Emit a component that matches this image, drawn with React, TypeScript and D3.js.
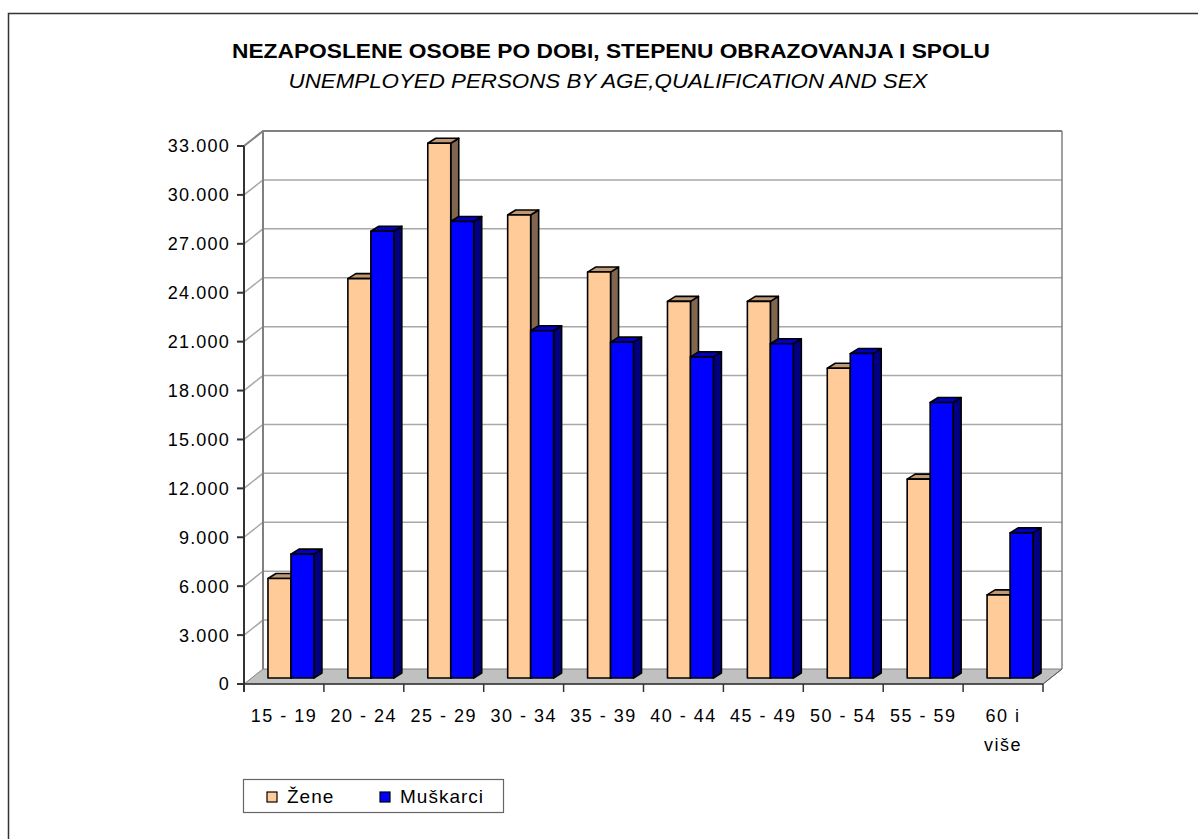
// 3D-style grouped bar chart: unemployed persons by age and sex
import React from 'react';
import * as d3 from 'd3';

const ageGroups = ['15 - 19', '20 - 24', '25 - 29', '30 - 34', '35 - 39', '40 - 44', '45 - 49', '50 - 54', '55 - 59', '60 i|više'];
const zene = [6100, 24500, 32800, 28400, 24900, 23100, 23100, 19000, 12200, 5100];
const muskarci = [7600, 27400, 28000, 21300, 20600, 19700, 20500, 19900, 16900, 8900];
const seriesNames = ['Žene', 'Muškarci'];
const yTicks = [0, 3000, 6000, 9000, 12000, 15000, 18000, 21000, 24000, 27000, 30000, 33000];

const W = 1198;
const H = 839;
const FONT = "'Liberation Sans', Arial, sans-serif";

// colours: front, top, side
const palette = [
  { front: '#FFCC99', top: '#BF9973', side: '#806650' },
  { front: '#0000FF', top: '#0000BF', side: '#000080' },
];

const App = () => {
  const x0 = 244, x1 = 1043; // front floor edge
  const wallDx = 19, wallDy = -15; // depth of the floor / back wall
  const barDx = 7, barDy = -6; // where the bar fronts sit inside the depth
  const depthDx = 8, depthDy = -5; // bar thickness

  const xScale = d3.scaleBand().domain(ageGroups).range([x0, x1]).paddingInner(0).paddingOuter(0);
  const inner = d3.scaleBand().domain(seriesNames).range([0, xScale.bandwidth()]).paddingInner(0).paddingOuter(0.739);
  const yScale = d3.scaleLinear().domain([0, 33000]).range([684, 146]);

  const fmt = (v: number) => (v === 0 ? '0' : d3.format(',')(v).replace(/,/g, '.'));
  const yTop = yScale(33000);
  const yBot = yScale(0);

  const values = [zene, muskarci];

  const bars: any[] = [];
  ageGroups.forEach((g, i) => {
    seriesNames.forEach((s, j) => {
      const v = values[j][i];
      const bx = (xScale(g) as number) + (inner(s) as number) + barDx;
      const bw = inner.bandwidth();
      const by = yScale(v) + barDy;
      const bb = yScale(0) + barDy;
      const c = palette[j];
      const top = `${bx},${by} ${bx + depthDx},${by + depthDy} ${bx + bw + depthDx},${by + depthDy} ${bx + bw},${by}`;
      const side = `${bx + bw},${by} ${bx + bw + depthDx},${by + depthDy} ${bx + bw + depthDx},${bb + depthDy} ${bx + bw},${bb}`;
      bars.push(
        <g key={`${g}-${s}`} stroke="#000" strokeWidth={1.6} strokeLinejoin="round">
          <polygon points={side} fill={c.side} />
          <polygon points={top} fill={c.top} />
          <rect x={bx} y={by} width={bw} height={bb - by} fill={c.front} />
        </g>
      );
    });
  });

  return (
    <svg width={W} height={H} style={{ position: 'absolute', left: 0, top: 0, fontFamily: FONT }}>
      <rect x={0} y={0} width={W} height={H} fill="#fff" />
      <path d={`M8.5,${H} V13.5 H${W}`} fill="none" stroke="#333" strokeWidth={1.5} />

      <text x={611} y={58} textAnchor="middle" fontWeight="bold" fontSize={21} textLength={758} lengthAdjust="spacingAndGlyphs">
        NEZAPOSLENE OSOBE PO DOBI, STEPENU OBRAZOVANJA I SPOLU
      </text>
      <text x={608} y={88} textAnchor="middle" fontStyle="italic" fontSize={19.5} textLength={639} lengthAdjust="spacingAndGlyphs">
        UNEMPLOYED PERSONS BY AGE,QUALIFICATION AND SEX
      </text>

      {/* floor */}
      <polygon
        points={`${x0},${yBot} ${x1},${yBot} ${x1 + wallDx},${yBot + wallDy} ${x0 + wallDx},${yBot + wallDy}`}
        fill="#C0C0C0"
        stroke="#808080"
        strokeWidth={1}
      />

      {/* gridlines on side and back wall */}
      {yTicks.filter(t => t > 0).map(t => (
        <polyline
          key={t}
          points={`${x0},${yScale(t)} ${x0 + wallDx},${yScale(t) + wallDy} ${x1 + wallDx},${yScale(t) + wallDy}`}
          fill="none"
          stroke={t === 33000 ? '#808080' : '#A8A8A8'}
          strokeWidth={t === 33000 ? 2 : 1.5}
        />
      ))}
      {/* back wall edges */}
      <line x1={x0 + wallDx} y1={yTop + wallDy} x2={x0 + wallDx} y2={yBot + wallDy} stroke="#808080" strokeWidth={2} />
      <line x1={x1 + wallDx} y1={yTop + wallDy} x2={x1 + wallDx} y2={yBot + wallDy} stroke="#808080" strokeWidth={1.5} />
      <line x1={x1} y1={yBot} x2={x1 + wallDx} y2={yBot + wallDy} stroke="#555" strokeWidth={1} />

      {bars}

      {/* y axis */}
      <line x1={x0} y1={yTop} x2={x0} y2={yBot + 8} stroke="#333" strokeWidth={2} />
      {yTicks.map(t => (
        <g key={t}>
          <line x1={x0 - 7} y1={yScale(t)} x2={x0} y2={yScale(t)} stroke="#333" strokeWidth={2} />
          <text x={x0 - 14} y={yScale(t)} dy="0.36em" textAnchor="end" fontSize={18} letterSpacing={1.2}>
            {fmt(t)}
          </text>
        </g>
      ))}

      {/* x axis */}
      <line x1={x0} y1={yBot} x2={x1} y2={yBot} stroke="#333" strokeWidth={1.5} />
      {ageGroups.map(g => (
        <line key={`t-${g}`} x1={(xScale(g) as number) + xScale.bandwidth()} y1={yBot} x2={(xScale(g) as number) + xScale.bandwidth()} y2={yBot + 8} stroke="#333" strokeWidth={1.5} />
      ))}
      {ageGroups.map(g => {
        const cx = (xScale(g) as number) + xScale.bandwidth() / 2;
        return (
          <text key={`l-${g}`} x={cx} y={722} textAnchor="middle" fontSize={18} letterSpacing={1.5}>
            {g.split('|').map((p, k) => (
              <tspan key={k} x={cx} dy={k === 0 ? 0 : 29}>{p}</tspan>
            ))}
          </text>
        );
      })}

      {/* legend */}
      <rect x={243.5} y={779.5} width={260} height={33} fill="#fff" stroke="#666" strokeWidth={1.2} />
      {seriesNames.map((s, j) => {
        const lx = j === 0 ? 267 : 380;
        return (
          <g key={s}>
            <rect x={lx} y={792} width={10} height={10} fill={palette[j].front} stroke="#000" strokeWidth={1.2} />
            <text x={lx + 20} y={803} fontSize={19} letterSpacing={1}>{s}</text>
          </g>
        );
      })}
    </svg>
  );
};

export default App;
